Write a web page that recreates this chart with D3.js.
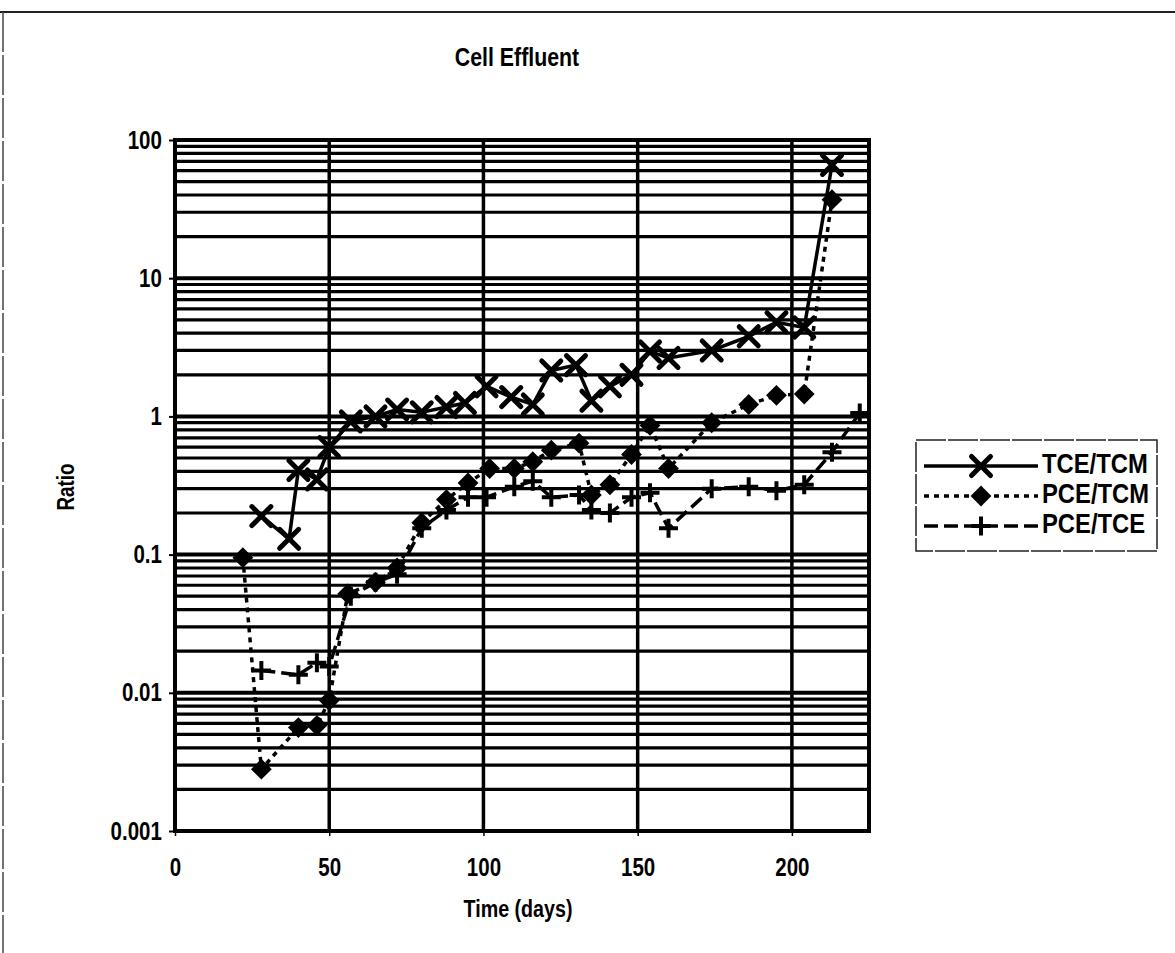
<!DOCTYPE html>
<html>
<head>
<meta charset="utf-8">
<script src="https://cdn.jsdelivr.net/npm/d3@7"></script>
<style>
  html, body { margin: 0; padding: 0; background: #fff; }
  svg { display: block; }
  text { fill: #000; }
</style>
</head>
<body>
<svg id="chart" width="1175" height="953"></svg>
<script>
// Effluent concentration ratios over time (log scale)
const tceTcmDays   = [28, 37, 40, 46, 50, 57, 65, 72, 80, 88, 94, 101, 109, 116, 122, 130, 135, 141, 148, 154, 160, 174, 186, 195, 204, 213];
const tceTcmValues = [0.19, 0.13, 0.41, 0.35, 0.6, 0.92, 1.0, 1.12, 1.07, 1.17, 1.25, 1.65, 1.38, 1.22, 2.15, 2.35, 1.3, 1.65, 2.0, 2.95, 2.65, 3.0, 3.8, 4.8, 4.4, 66];

const pceTcmDays   = [22, 28, 40, 46, 50, 56, 65, 72, 80, 88, 95, 102, 110, 116, 122, 131, 135, 141, 148, 154, 160, 174, 186, 195, 204, 213];
const pceTcmValues = [0.095, 0.0028, 0.0056, 0.0058, 0.0088, 0.052, 0.063, 0.08, 0.17, 0.25, 0.33, 0.42, 0.42, 0.47, 0.57, 0.64, 0.27, 0.32, 0.53, 0.86, 0.42, 0.9, 1.22, 1.42, 1.45, 37];

const pceTceDays   = [28, 40, 46, 50, 57, 65, 72, 80, 88, 95, 101, 110, 116, 122, 131, 135, 141, 148, 154, 160, 174, 186, 195, 204, 213, 222];
const pceTceValues = [0.0145, 0.0135, 0.0165, 0.0155, 0.05, 0.063, 0.072, 0.155, 0.21, 0.26, 0.26, 0.31, 0.34, 0.26, 0.27, 0.21, 0.2, 0.26, 0.28, 0.155, 0.3, 0.31, 0.29, 0.32, 0.55, 1.06];

const seriesNames = ["TCE/TCM", "PCE/TCM", "PCE/TCE"];
const xTickValues = [0, 50, 100, 150, 200];
const yTickValues = [0.001, 0.01, 0.1, 1, 10, 100];
const yTickLabels = ["0.001", "0.01", "0.1", "1", "10", "100"];

const chartTitle = "Cell Effluent";
const xTitle = "Time (days)";
const yTitle = "Ratio";

const svg = d3.select("#chart");
const W = 1175, H = 953;
const plot = { left: 175, right: 869, top: 140, bottom: 831 };

const x = d3.scaleLinear().domain([0, 225]).range([plot.left, plot.right]);
const y = d3.scaleLog().domain([0.001, 100]).range([plot.bottom, plot.top]);

// Bold sans, narrowed horizontally for a condensed face
const font = "'Liberation Sans', Arial, sans-serif";
const narrow = 0.82;

function condensedText(g, tx, ty, str, size, anchor, rotate, sx) {
  return g.append("text")
    .attr("transform", `translate(${tx},${ty})${rotate ? ` rotate(${rotate})` : ""} scale(${sx || narrow},1)`)
    .attr("text-anchor", anchor).attr("dominant-baseline", "middle")
    .attr("font-family", font).attr("font-weight", "bold").attr("font-size", size)
    .text(str);
}

// Page frame
svg.append("line").attr("x1", 0).attr("x2", W).attr("y1", 12).attr("y2", 12)
  .attr("stroke", "#222").attr("stroke-width", 2);
svg.append("line").attr("x1", 3).attr("x2", 3).attr("y1", 12).attr("y2", H)
  .attr("stroke", "#444").attr("stroke-width", 1.5).attr("stroke-dasharray", "40,3");

// Horizontal grid: decades plus 2..9 subdivisions
const gridVals = [];
for (let e = -3; e < 2; e++) {
  for (let k = 1; k <= 9; k++) gridVals.push({ v: k * Math.pow(10, e), major: k === 1 });
}
gridVals.push({ v: 100, major: true });

const grid = svg.append("g");
grid.selectAll("line.h").data(gridVals).join("line")
  .attr("class", "h")
  .attr("x1", plot.left).attr("x2", plot.right)
  .attr("y1", d => y(d.v)).attr("y2", d => y(d.v))
  .attr("stroke", "#000").attr("stroke-width", d => d.major ? 4 : 3.2);

grid.selectAll("line.v").data(xTickValues.filter(d => d > 0)).join("line")
  .attr("class", "v")
  .attr("x1", d => x(d)).attr("x2", d => x(d))
  .attr("y1", plot.top).attr("y2", plot.bottom)
  .attr("stroke", "#000").attr("stroke-width", 3.5);

// Plot area border
svg.append("rect")
  .attr("x", plot.left).attr("y", plot.top)
  .attr("width", plot.right - plot.left).attr("height", plot.bottom - plot.top)
  .attr("fill", "none").attr("stroke", "#000").attr("stroke-width", 4);

// Axes
const yAxis = d3.axisLeft(y).tickValues(yTickValues)
  .tickFormat((d, i) => yTickLabels[i]).tickSize(6).tickPadding(10);
const yg = svg.append("g").attr("transform", `translate(${plot.left},0)`).call(yAxis);
yg.select(".domain").remove();
yg.selectAll(".tick line").attr("stroke", "#000").attr("stroke-width", 2);
yg.selectAll(".tick text").attr("font-family", font).attr("font-weight", "bold")
  .attr("font-size", 25).attr("fill", "#000").attr("transform", `scale(${narrow},1)`);

const xAxis = d3.axisBottom(x).tickValues(xTickValues).tickSize(5).tickPadding(22);
const xg = svg.append("g").attr("transform", `translate(0,${plot.bottom})`).call(xAxis);
xg.select(".domain").remove();
xg.selectAll(".tick line").attr("stroke", "#000").attr("stroke-width", 1.5);
xg.selectAll(".tick text").attr("font-family", font).attr("font-weight", "bold")
  .attr("font-size", 25).attr("fill", "#000").attr("transform", `scale(${narrow},1)`);

// Titles
condensedText(svg, 517, 59, chartTitle, 26, "middle");
condensedText(svg, 518, 911, xTitle, 24, "middle");
condensedText(svg, 68, 487, yTitle, 23, "middle", -90);

// Series definitions
const series = [
  { name: seriesNames[0], days: tceTcmDays, values: tceTcmValues, dash: null, marker: "x" },
  { name: seriesNames[1], days: pceTcmDays, values: pceTcmValues, dash: "5,5", marker: "diamond" },
  { name: seriesNames[2], days: pceTceDays, values: pceTceValues, dash: "14,6", marker: "plus" }
];

const line = d3.line().x(d => x(d[0])).y(d => y(d[1]));

function drawMarker(g, type, cx, cy) {
  if (type === "x") {
    const s = 9.5;
    g.append("path")
      .attr("d", `M${cx - s},${cy - s}L${cx + s},${cy + s}M${cx - s},${cy + s}L${cx + s},${cy - s}`)
      .attr("stroke", "#000").attr("stroke-width", 5).attr("stroke-linecap", "round").attr("fill", "none");
  } else if (type === "diamond") {
    const s = 9;
    g.append("path")
      .attr("d", `M${cx},${cy - s}L${cx + s},${cy}L${cx},${cy + s}L${cx - s},${cy}Z`)
      .attr("fill", "#000").attr("stroke", "#000").attr("stroke-width", 2);
  } else {
    const s = 9.5;
    g.append("path")
      .attr("d", `M${cx - s},${cy}L${cx + s},${cy}M${cx},${cy - s}L${cx},${cy + s}`)
      .attr("stroke", "#000").attr("stroke-width", 4).attr("fill", "none");
  }
}

const marks = svg.append("g");
series.forEach(s => {
  const pts = s.days.map((d, i) => [d, s.values[i]]);
  marks.append("path").datum(pts)
    .attr("d", line)
    .attr("fill", "none").attr("stroke", "#000").attr("stroke-width", 3.5)
    .attr("stroke-dasharray", s.dash);
  const mg = marks.append("g");
  pts.forEach(p => drawMarker(mg, s.marker, x(p[0]), y(p[1])));
});

// Legend
const lg = svg.append("g");
lg.append("rect").attr("x", 916).attr("y", 440).attr("width", 241).attr("height", 111)
  .attr("fill", "#fff").attr("stroke", "#222").attr("stroke-width", 1.5)
  .attr("stroke-dasharray", "30,2");
series.forEach((s, i) => {
  const cy = 466 + i * 30;
  lg.append("line").attr("x1", 924).attr("x2", 1038).attr("y1", cy).attr("y2", cy)
    .attr("stroke", "#000").attr("stroke-width", 3.5).attr("stroke-dasharray", s.dash);
  drawMarker(lg, s.marker, 981, cy);
  condensedText(lg, 1042, cy, s.name, 28, "start", null, 0.85);
});
</script>
</body>
</html>
